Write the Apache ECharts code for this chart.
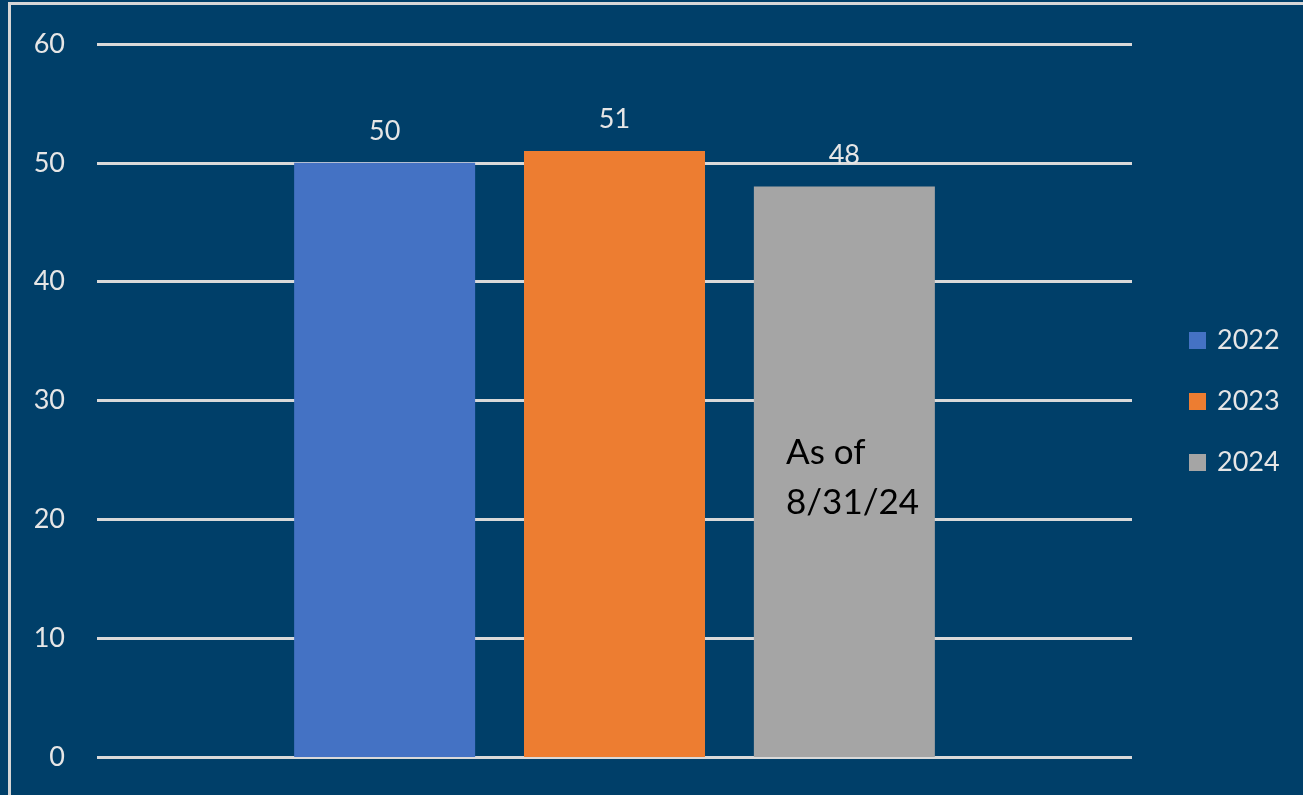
<!DOCTYPE html>
<html>
<head>
<meta charset="utf-8">
<script src="https://cdn.jsdelivr.net/npm/echarts@6/dist/echarts.min.js"></script>
<style>
  html, body { margin: 0; padding: 0; background: #003f69; overflow: hidden; }
  #frame { position: absolute; left: 8px; top: 2px; width: 1400px; height: 900px; border: 3px solid #d6d6d6; }
  #chart { position: absolute; left: 0; top: 0; width: 1303px; height: 795px; }
</style>
</head>
<body>
<div id="frame"></div>
<div id="chart"></div>
<script>
const categories = [''];
const seriesNames = ['2022', '2023', '2024'];
const seriesValues = [[50], [51], [48]];
const seriesColors = ['#4472C4', '#ED7D31', '#A5A5A5'];
const yTicks = [0, 10, 20, 30, 40, 50, 60];
const note = 'As of\n8/31/24';

const chart = echarts.init(document.getElementById('chart'));
const FONT = 'Lato, "Open Sans", sans-serif';

chart.setOption({
  animation: false,
  backgroundColor: 'transparent',
  grid: { left: 97, right: 171, top: 44, bottom: 38 },
  legend: {
    orient: 'vertical',
    left: 1184,
    top: 322,
    itemWidth: 17,
    itemHeight: 17,
    itemGap: 34,
    icon: 'rect',
    data: seriesNames,
    textStyle: { color: '#e6e6e6', fontSize: 27, fontFamily: FONT, padding: [0, 0, 0, 6] },
  },
  xAxis: {
    type: 'category',
    data: categories,
    axisLine: { show: false },
    axisTick: { show: false },
    axisLabel: { show: false },
  },
  yAxis: {
    type: 'value',
    min: yTicks[0],
    max: yTicks[yTicks.length - 1],
    interval: 10,
    axisLine: { show: false },
    axisTick: { show: false },
    axisLabel: { color: '#e6e6e6', fontSize: 27, fontFamily: FONT, margin: 32 },
    splitLine: { lineStyle: { color: '#d9d9d9', width: 3 } },
  },
  series: seriesNames.map((name, i) => ({
    name,
    type: 'bar',
    data: seriesValues[i],
    barWidth: 181,
    barGap: '27%',
    itemStyle: { color: seriesColors[i] },
    label: {
      show: true,
      position: 'top',
      distance: 18,
      color: '#e6e6e6',
      fontSize: 27,
      fontFamily: FONT,
    },
  })),
  graphic: [{
    type: 'text',
    z: 100,
    left: 786,
    top: 428,
    style: { text: note, fill: '#000', fontSize: 35, fontFamily: FONT, lineHeight: 50 },
  }],
});
</script>
</body>
</html>
